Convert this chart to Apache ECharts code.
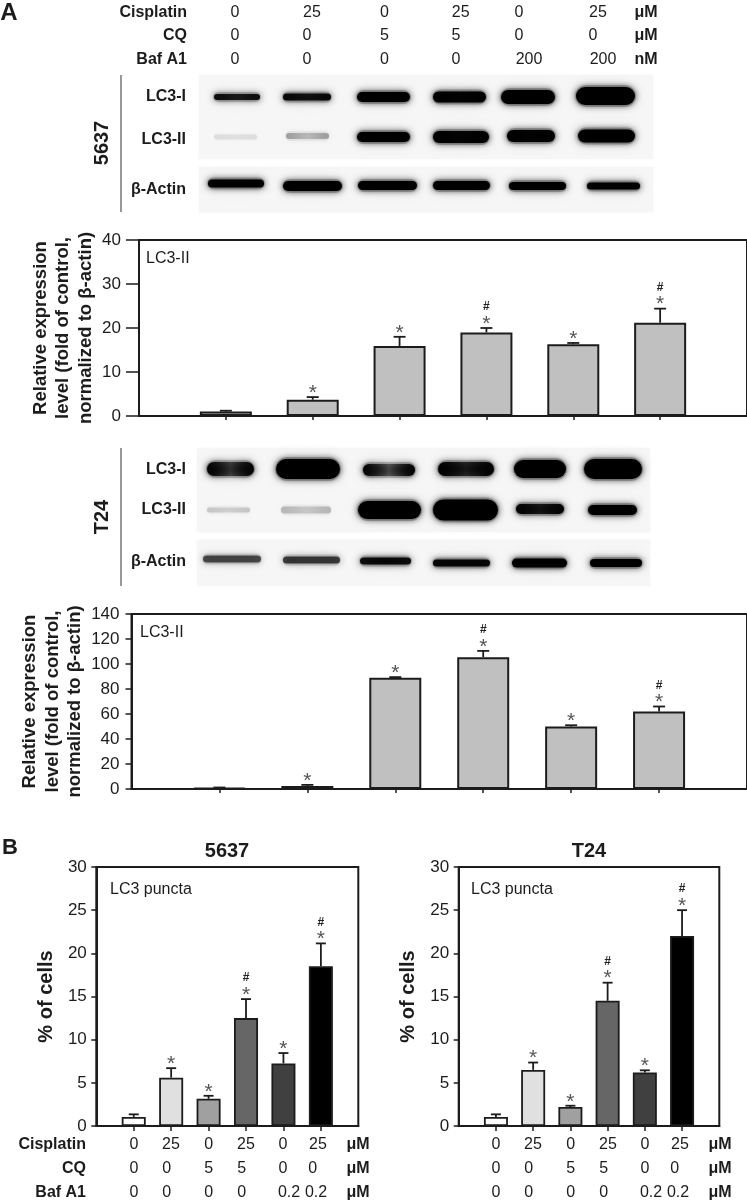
<!DOCTYPE html>
<html><head><meta charset="utf-8">
<style>html,body{margin:0;padding:0;background:#fff}#c{width:747px;height:1203px}</style>
<script src="https://cdn.jsdelivr.net/npm/echarts@6/dist/echarts.min.js"></script>
</head><body><div id="c"></div>
<script>
// ---------- data ----------
const conditions = ['C0', 'C25', 'CQ', 'C25+CQ', 'Baf', 'C25+Baf'];
const a5637Values = [1, 3.7, 15.9, 19, 16.3, 21.2];
const a5637ErrTop = [1.2, 4.3, 18, 20, 16.6, 24.4];
const a5637Marks = ['', '*', '*', '*#', '*', '*#'];
const aT24Values = [1, 2.5, 89, 105.5, 50, 62];
const aT24ErrTop = [1.2, 3.3, 89.5, 110.5, 51, 66];
const aT24Marks = ['', '*', '*', '*#', '*', '*#'];
const b5637Values = [1.05, 5.6, 3.15, 12.5, 7.25, 18.5];
const b5637ErrTop = [1.35, 6.7, 3.5, 14.7, 8.45, 21.15];
const bT24Values = [1.05, 6.5, 2.2, 14.5, 6.2, 22];
const bT24ErrTop = [1.35, 7.35, 2.35, 16.6, 6.45, 25];
const bMarks = ['', '*', '*', '*#', '*', '*#'];
const cisplatinA = ['0', '25', '0', '25', '0', '25'];
const cqA = ['0', '0', '5', '5', '0', '0'];
const bafA = ['0', '0', '0', '0', '200', '200'];
const cisplatinB = ['0', '25', '0', '25', '0', '25'];
const cqB = ['0', '0', '5', '5', '0', '0'];
const bafB = ['0', '0', '0', '0', '0.2', '0.2'];

// ---------- layout & style ----------
const SANS = '"Liberation Sans",Arial,sans-serif';
const INK = '#1c1c1c';
const bGreys = ['#ffffff', '#e0e0e0', '#a0a0a0', '#666666', '#404040', '#000000'];

const panels = [
  {v: a5637Values, e: a5637ErrTop, m: a5637Marks, left: 139, right: 0, top: 240, h: 176, max: 40, int: 10, bw: 52, cap: 12, fs: 17, tick: 13, lblM: 18,
   name: 'Relative expression\nlevel (fold of control,\nnormalized to β-actin)', nameFs: 18.5, nameGap: 42, nameLH: 22.5, lw: 2, fill: () => '#c0c0c0', xtick: 4},
  {v: aT24Values, e: aT24ErrTop, m: aT24Marks, left: 131.5, right: 0, top: 614, h: 175, max: 140, int: 20, bw: 52, cap: 12, fs: 17, tick: 6, lblM: 12,
   name: 'Relative expression\nlevel (fold of control,\nnormalized to β-actin)', nameFs: 18.5, nameGap: 45, nameLH: 22.5, lw: 2, fill: () => '#c0c0c0', xtick: 4},
  {v: b5637Values, e: b5637ErrTop, m: bMarks, left: 96.3, right: 388.7, top: 867, h: 259, max: 30, int: 5, bw: 24, cap: 10, fs: 17, tick: 5, lblM: 9.5,
   name: '% of cells', nameFs: 20, nameGap: 38, nameLH: 24, lw: 1.8, fill: i => bGreys[i], xtick: 5},
  {v: bT24Values, e: bT24ErrTop, m: bMarks, left: 458.7, right: 27.7, top: 867, h: 259, max: 30, int: 5, bw: 24, cap: 10, fs: 17, tick: 5, lblM: 9.5,
   name: '% of cells', nameFs: 20, nameGap: 38, nameLH: 24, lw: 1.8, fill: i => bGreys[i], xtick: 5}
];

const slots = ['', ...conditions, ''];
const grid = [], xAxis = [], yAxis = [], series = [];
panels.forEach((p, k) => {
  grid.push({left: p.left, right: p.right, top: p.top, height: p.h, show: true, borderColor: INK, borderWidth: 2, backgroundColor: 'transparent', containLabel: false, outerBoundsMode: 'none'});
  xAxis.push({type: 'category', gridIndex: k, data: slots, boundaryGap: false,
    axisLine: {lineStyle: {color: INK, width: 2}},
    axisTick: {length: p.xtick, interval: i => i > 0 && i < 7, lineStyle: {color: INK, width: 1.5}},
    axisLabel: {show: false}});
  yAxis.push({type: 'value', gridIndex: k, min: 0, max: p.max, interval: p.int, splitLine: {show: false},
    axisLine: {show: true, lineStyle: {color: INK, width: 2}},
    axisTick: {show: true, length: p.tick, lineStyle: {color: INK, width: 1.5}},
    axisLabel: {color: INK, fontFamily: SANS, fontSize: p.fs, margin: p.lblM},
    name: p.name, nameLocation: 'middle', nameGap: p.nameGap, nameRotate: 90, nameMoveOverlap: false,
    nameTextStyle: {color: INK, fontFamily: SANS, fontWeight: 'bold', fontSize: p.nameFs, lineHeight: p.nameLH, align: 'center'}});
  series.push({type: 'bar', xAxisIndex: k, yAxisIndex: k, barWidth: p.bw, silent: true, animation: false,
    data: [null, ...p.v.map((y, i) => ({value: y, itemStyle: {color: p.fill(i), borderColor: INK, borderWidth: p.lw}})), null]});
  series.push({type: 'custom', xAxisIndex: k, yAxisIndex: k, silent: true, animation: false, z: 5,
    data: p.v.map((y, i) => [i + 1, y, p.e[i]]),
    encode: {x: 0, y: [1, 2]},
    renderItem: (params, api) => {
      const base = api.coord([api.value(0), api.value(1)]);
      const top = api.coord([api.value(0), api.value(2)]);
      const st = {stroke: INK, lineWidth: 1.8, fill: null};
      const kids = [
        {type: 'line', shape: {x1: base[0], y1: base[1], x2: top[0], y2: top[1]}, style: st},
        {type: 'line', shape: {x1: top[0] - p.cap / 2, y1: top[1], x2: top[0] + p.cap / 2, y2: top[1]}, style: st}
      ];
      const mk = p.m[params.dataIndex];
      if (mk.includes('*')) kids.push({type: 'text', x: top[0], y: top[1] - 8,
        style: {text: '*', fill: '#555', font: '21px ' + SANS, align: 'center', verticalAlign: 'middle', y: 4}});
      if (mk.includes('#')) kids.push({type: 'text', x: top[0], y: top[1] - 21,
        style: {text: '#', fill: '#222', font: 'bold 12px ' + SANS, align: 'center', verticalAlign: 'middle'}});
      return {type: 'group', children: kids};
    }});
});

// ---------- annotations ----------
const g = [];
const txt = (text, x, y, font, o = {}) => g.push({type: 'text', x, y, rotation: o.rot || 0, z: 20, silent: true,
  style: {text, font, fill: o.fill || INK, align: o.align || 'center', verticalAlign: 'middle'}});
const B16 = 'bold 16px ' + SANS, N16 = '16px ' + SANS;

txt('A', 9, 13, 'bold 24px ' + SANS);
txt('B', 10, 848, 'bold 22px ' + SANS);

// header rows of panel A
const hdrX = [[235, 312, 384.5, 460.7, 519, 598], [235, 307, 384.5, 456, 519, 593], [235, 307, 384.5, 456, 529, 603]];
[['Cisplatin', cisplatinA, 'μM', 13], ['CQ', cqA, 'μM', 36], ['Baf A1', bafA, 'nM', 60]].forEach((r, i) => {
  txt(r[0], 187, r[3], B16, {align: 'right'});
  r[1].forEach((s, j) => txt(s, hdrX[i][j], r[3], N16));
  txt(r[2], 646, r[3], B16);
});

// B rows
const rowB = [[134, 171, 208.7, 246, 283, 318], [134, 166.7, 208.7, 241.7, 283, 312.7], [134, 166.7, 208.7, 241.7, 289, 316]];
const rowY = [1145, 1169, 1193];
[cisplatinB, cqB, bafB].forEach((r, i) => {
  r.forEach((s, j) => {
    txt(s, rowB[i][j], rowY[i], N16);
    txt(s, rowB[i][j] + 362, rowY[i], N16);
  });
  txt('μM', 358, rowY[i], B16);
  txt('μM', 720, rowY[i], B16);
});
['Cisplatin', 'CQ', 'Baf A1'].forEach((s, i) => txt(s, 86, rowY[i], B16, {align: 'right'}));
txt('5637', 227, 851, 'bold 20px ' + SANS);
txt('T24', 589, 851, 'bold 20px ' + SANS);
txt('LC3 puncta', 110, 890, N16, {align: 'left'});
txt('LC3 puncta', 471, 890, N16, {align: 'left'});
txt('LC3-II', 146, 259, N16, {align: 'left'});
txt('LC3-II', 140, 633, N16, {align: 'left'});

// blot panels (photographic stand-ins)
const blots = [
  {bg: [[199, 75, 454, 84], [199, 167, 454, 45]], line: [121, 75, 212], cell: ['5637', 102, 143],
   labels: [['LC3-I', 97], ['LC3-II', 140], ['β-Actin', 190]],
   bands: [
    [212,262,97,8,.92,.8],[281,333,97,9,.95,.85],[355,412,97,12,1,1],[431,488,97,13,1,.95],[499,557,97,16,1,1],[574,637,96,20,1,1],
    [212,259,137,7,.09,.07],[284,331,136,8,.3,.18],[355,412,137,12,1,1],[431,491,137,14,1,.95],[505,557,136,14,1,.95],[576,637,136,15,1,1],
    [206,266,183.5,10,1,1],[281,344,186,12,1,1],[356,419,185.5,11,1,1],[431,492,185.5,11,1,1],[507,568,186,10,1,1],[585,642,186,9,1,1]]},
  {bg: [[197, 448, 453, 84], [197, 540, 453, 46]], line: [121, 448, 586], cell: ['T24', 102, 517],
   labels: [['LC3-I', 470], ['LC3-II', 510], ['β-Actin', 562]],
   bands: [
    [205,256,469,16,1,.55],[274,342,469,22,1,1],[361,417,470,14,1,.45],[436,496,469,16,1,.7],[512,568,469,20,1,1],[582,644,469,22,1,1],
    [205,252,510,7,.17,.12],[279,333,510,9,.22,.14],[356,423,510,20,1,1],[431,500,510,23,1,1],[514,566,509,12,1,.8],[586,639,510,12,1,1],
    [201,263,559,9,.62,.62],[281,342,560,9,.68,.68],[358,413,561,9,.9,.95],[431,492,563,9,.95,.95],[510,569,563,11,1,1],[588,644,563,10,1,1]]}
];
blots.forEach(b => {
  b.bg.forEach(r => g.push({type: 'rect', shape: {x: r[0], y: r[1], width: r[2], height: r[3]}, z: 1, silent: true, style: {fill: '#f6f6f6', shadowBlur: 3, shadowColor: '#f6f6f6'}}));
  g.push({type: 'line', shape: {x1: b.line[0], y1: b.line[1], x2: b.line[0], y2: b.line[2]}, z: 2, silent: true, style: {stroke: '#333', lineWidth: 1}});
  txt(b.cell[0], b.cell[1], b.cell[2], 'bold 20px ' + SANS, {rot: Math.PI / 2});
  b.labels.forEach(l => txt(l[0], 186, l[1], B16, {align: 'right'}));
  b.bands.forEach(([x0, x1, y, h, edge, mid]) => {
    const col = d => `rgba(0,0,0,${d})`;
    // soft halo round the band
    g.push({type: 'rect', z: 2, silent: true,
      shape: {x: x0 + 1, y: y - h / 2 - 1, width: x1 - x0 - 2, height: h + 2, r: h / 2 + 1},
      style: {fill: col(edge * .18), shadowBlur: 16, shadowColor: col(edge * .4)}});
    g.push({type: 'rect', z: 3, silent: true,
      shape: {x: x0 + 2, y: y - h / 2 + 1, width: x1 - x0 - 4, height: h - 2, r: (h - 2) / 2},
      style: {fill: {type: 'linear', x: 0, y: 0, x2: 1, y2: 0, colorStops: [{offset: 0, color: col(edge)}, {offset: .5, color: col(mid)}, {offset: 1, color: col(edge)}]},
        shadowBlur: 7, shadowColor: col(edge * .9)}});
  });
});

const chart = echarts.init(document.getElementById('c'), null, {renderer: 'canvas'});
chart.setOption({animation: false, backgroundColor: '#fff', grid, xAxis, yAxis, series, graphic: {elements: g}});
</script></body></html>
